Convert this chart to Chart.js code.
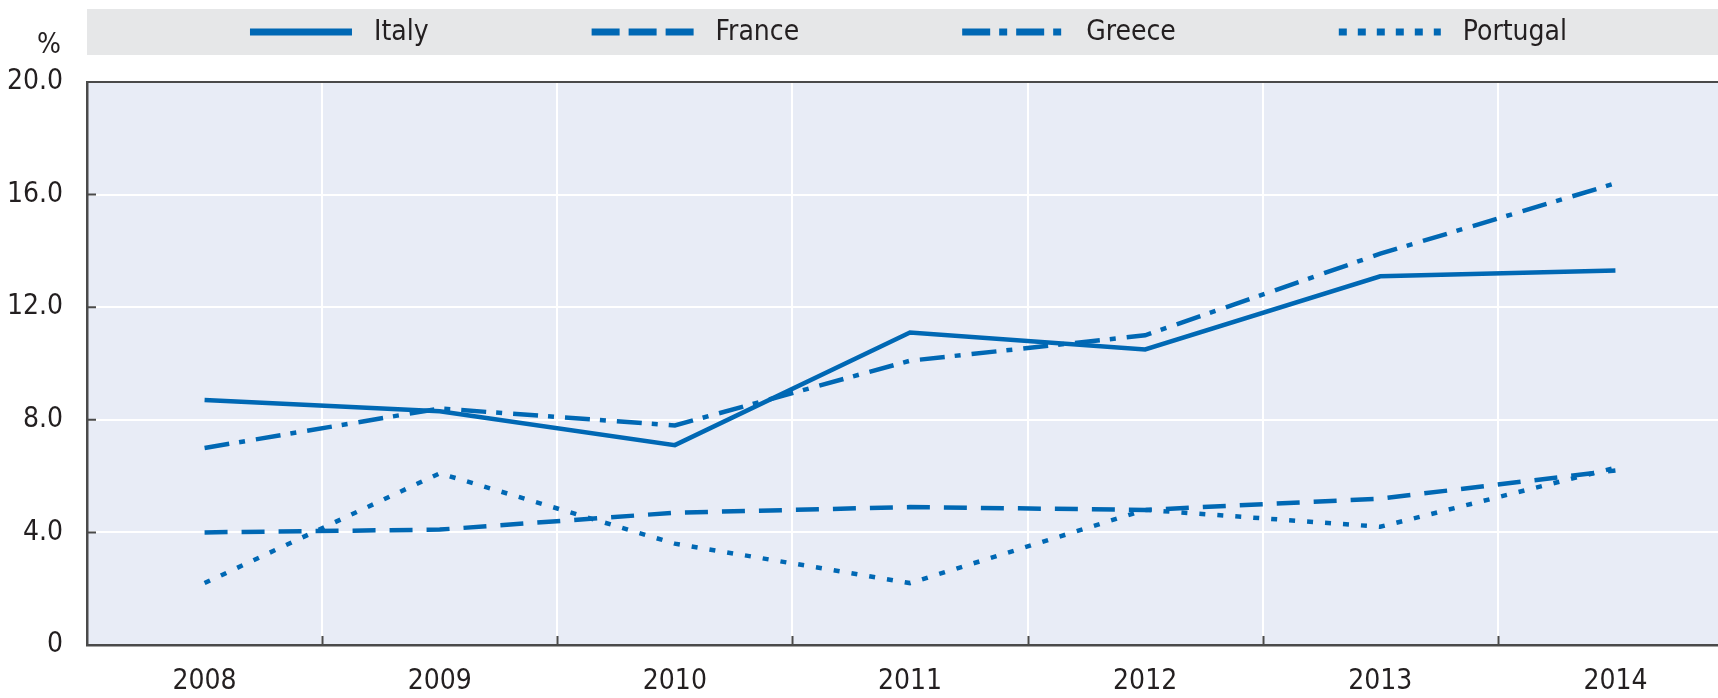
<!DOCTYPE html>
<html>
<head>
<meta charset="utf-8">
<script src="https://cdn.jsdelivr.net/npm/chart.js@4.4.0/dist/chart.umd.min.js"></script>
<style>
  html, body { margin: 0; padding: 0; background: #fff; overflow: hidden; }
  #wrap { width: 1745px; height: 698px; }
</style>
</head>
<body>
<div id="wrap"><canvas id="lineChart" width="1745" height="698"></canvas></div>
<script>
// data (%)
const years = ['2008', '2009', '2010', '2011', '2012', '2013', '2014'];
const italy = [8.7, 8.3, 7.1, 11.1, 10.5, 13.1, 13.3];
const france = [4.0, 4.1, 4.7, 4.9, 4.8, 5.2, 6.2];
const greece = [7.0, 8.4, 7.8, 10.1, 11.0, 13.9, 16.4];
const portugal = [2.2, 6.1, 3.6, 2.2, 4.8, 4.2, 6.3];
const yTickLabels = ['0', '4.0', '8.0', '12.0', '16.0', '20.0'];

const fontFamily = "'Liberation Sans Narrow', 'DejaVu Sans Condensed', 'Roboto Condensed', 'Liberation Sans', sans-serif";
const blue = '#0068b4';
const axisColor = '#4a4a4a';
const textColor = '#231f20';

Chart.defaults.font.family = fontFamily;
Chart.defaults.font.size = 28;
Chart.defaults.color = textColor;

// dash patterns used in the legend (thicker, longer than on the lines)
const legendDash = {
  Italy: [],
  France: [28, 9],
  Greece: [28, 9, 8, 9],
  Portugal: [8, 11]
};

const decor = {
  id: 'decor',
  beforeDraw(chart) {
    const { ctx, chartArea } = chart;
    ctx.save();
    // legend band
    ctx.fillStyle = '#e6e7e8';
    ctx.fillRect(chartArea.left, 9, chart.width - chartArea.left, 46);
    // plot background
    ctx.fillStyle = '#e8ecf6';
    ctx.fillRect(chartArea.left, chartArea.top, chartArea.right - chartArea.left, chartArea.bottom - chartArea.top);

    // legend items
    ctx.font = '28px ' + fontFamily;
    const sampleW = 102, gap = 22, spacing = 163, cy = 32;
    const items = chart.data.datasets.map(ds => ({
      label: ds.label,
      w: sampleW + gap + ctx.measureText(ds.label).width
    }));
    const total = items.reduce((s, it) => s + it.w, 0) + spacing * (items.length - 1);
    let x = (chartArea.left + 1730) / 2 - total / 2;
    items.forEach(it => {
      ctx.strokeStyle = blue;
      ctx.lineWidth = 7;
      ctx.lineCap = 'butt';
      ctx.setLineDash(legendDash[it.label]);
      ctx.beginPath();
      ctx.moveTo(x, cy);
      ctx.lineTo(x + sampleW, cy);
      ctx.stroke();
      ctx.setLineDash([]);
      ctx.fillStyle = textColor;
      ctx.textAlign = 'left';
      ctx.textBaseline = 'middle';
      ctx.fillText(it.label, x + sampleW + gap, cy + 1);
      x += it.w + spacing;
    });

    // unit
    ctx.textAlign = 'right';
    ctx.fillText('%', 61, 46);
    ctx.restore();
  },
  beforeDatasetsDraw(chart) {
    // small tick marks pointing inside the plot
    const { ctx, chartArea, scales } = chart;
    const xs = scales.x, ys = scales.y;
    ctx.save();
    ctx.strokeStyle = axisColor;
    ctx.lineWidth = 2;
    ctx.beginPath();
    for (let i = 1; i < years.length; i++) {
      const px = Math.round((xs.getPixelForValue(i - 1) + xs.getPixelForValue(i)) / 2) + 0.5;
      ctx.moveTo(px, chartArea.bottom);
      ctx.lineTo(px, chartArea.bottom - 9);
    }
    ys.ticks.forEach(t => {
      const py = ys.getPixelForValue(t.value);
      ctx.moveTo(chartArea.left, py);
      ctx.lineTo(chartArea.left + 9, py);
    });
    ctx.stroke();
    ctx.restore();
  }
};

const lineStyle = {
  borderColor: blue,
  borderWidth: 4.5,
  pointRadius: 0,
  tension: 0,
  fill: false,
  borderCapStyle: 'butt'
};

new Chart('lineChart', {
  type: 'line',
  data: {
    labels: years,
    datasets: [
      { label: 'Italy', data: italy, ...lineStyle },
      { label: 'France', data: france, ...lineStyle, borderDash: [23, 14] },
      { label: 'Greece', data: greece, ...lineStyle, borderDash: [25, 10, 6, 11] },
      { label: 'Portugal', data: portugal, ...lineStyle, borderDash: [6, 12] }
    ]
  },
  options: {
    responsive: false,
    animation: false,
    layout: { padding: { top: 82, right: 12, left: 0, bottom: 0 } },
    plugins: {
      legend: { display: false },
      tooltip: { enabled: false }
    },
    scales: {
      x: {
        offset: true,
        grid: {
          offset: true,
          drawTicks: false,
          lineWidth: 2,
          color: ctx => (ctx.index === 0 ? 'rgba(0,0,0,0)' : '#ffffff')
        },
        border: { color: axisColor, width: 2.5 },
        ticks: { padding: 21, font: { size: 28, lineHeight: 1.1 }, maxRotation: 0 },
        afterFit: s => { s.height = 53; }
      },
      y: {
        min: 0,
        max: 20,
        grid: {
          drawTicks: false,
          lineWidth: 2,
          color: ctx => (ctx.tick && ctx.tick.value === 20 ? axisColor : '#ffffff')
        },
        border: { color: axisColor, width: 2.5 },
        ticks: {
          stepSize: 4,
          padding: 24,
          font: { size: 28 },
          callback: (v, i) => yTickLabels[i]
        },
        afterFit: s => { s.width = 87; }
      }
    }
  },
  plugins: [decor]
});
</script>
</body>
</html>
